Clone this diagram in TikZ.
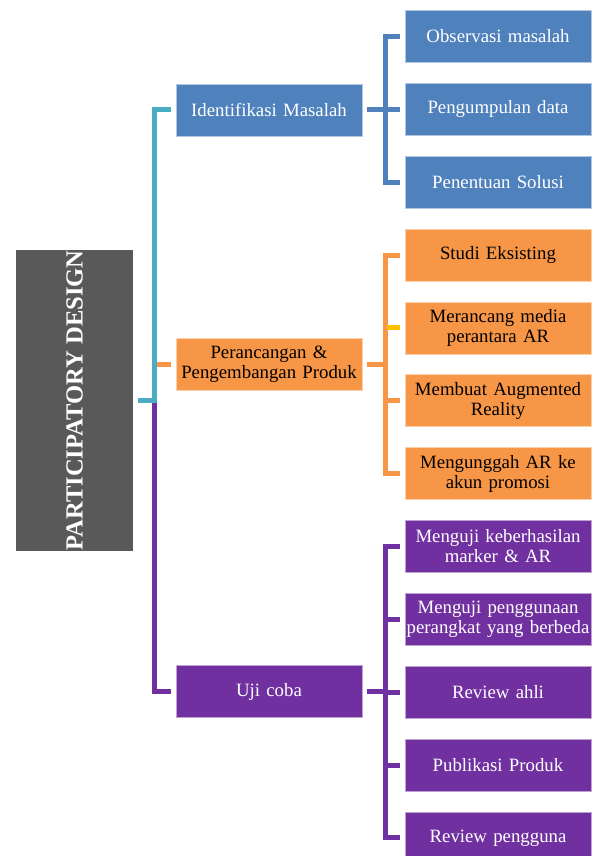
\documentclass[tikz,border=0pt]{standalone}
\usepackage{fontspec}
\setmainfont{Liberation Serif}
\usepackage{xcolor}
\usepackage{tikz}

\definecolor{pdblue}{HTML}{4F81BD}
\definecolor{pdorange}{HTML}{F79646}
\definecolor{pdpurple}{HTML}{7030A0}
\definecolor{pdteal}{HTML}{4BACC6}
\definecolor{pdgray}{HTML}{595959}
\definecolor{pdyellow}{HTML}{FFC000}

\begin{document}
\begin{tikzpicture}[
    x=1pt, y=-1pt,
    rootnode/.style={fill=pdgray, text=white, rotate=90, minimum width=301pt, minimum height=117pt, inner sep=0pt, font=\fontsize{24.6}{27}\selectfont\bfseries},
    boxnode/.style={draw=white!55!#1, line width=0.6pt, fill=#1, text=white, minimum width=186pt, minimum height=52pt, inner sep=0pt, text width=184pt, align=center, font=\fontsize{18.8}{20}\selectfont},
    link/.style={draw=#1, line width=5pt}
]
    \useasboundingbox (0,0) rectangle (597,856);

    \node[rootnode] (root) at (74.5, 400.5) {PARTICIPATORY DESIGN};

    \node[boxnode=pdblue] (idm) at (269, 110) {Identifikasi Masalah};
    \node[boxnode=pdorange, text=black] (pp) at (269, 364.5) {Perancangan \&\\ Pengembangan Produk};
    \node[boxnode=pdpurple] (uji) at (269, 691.5) {Uji coba};

    \foreach \n/\i/\val in {obs/0/Observasi masalah, peng/1/Pengumpulan data, sol/2/Penentuan Solusi}
        \node[boxnode=pdblue] (\n) at (498, 36.5+72.85*\i) {\val};
    \foreach \n/\i/\val in {studi/3/Studi Eksisting, mer/4/Merancang media\\ perantara AR, buat/5/Membuat Augmented\\ Reality, unggah/6/Mengunggah AR ke\\ akun promosi}
        \node[boxnode=pdorange, text=black] (\n) at (498, 36.5+72.85*\i) {\val};
    \foreach \n/\i/\val in {uji1/7/Menguji keberhasilan\\ marker \& AR, uji2/8/Menguji penggunaan\\ perangkat yang berbeda, ahli/9/Review ahli, publ/10/Publikasi Produk, pengg/11/Review pengguna}
        \node[boxnode=pdpurple] (\n) at (498, 36.5+72.85*\i) {\val};

    % trunk to the three stages
    \coordinate (trunk) at (154.5, 400.5);
    \draw[link=pdorange, shorten <=5pt] (pp.west) -- (pp.west -| trunk);
    \draw[link=pdpurple, shorten >=5pt] (trunk) |- (uji.west);
    \draw[link=pdteal, shorten <=5pt, shorten >=5pt] (root.south) -- (trunk) |- (idm.west);

    % stage to steps
    \foreach \c in {obs, peng, sol}
        \draw[link=pdblue, shorten <=5pt, shorten >=5pt] (idm.east) -- ++(23,0) |- (\c.west);
    \foreach \c in {studi, mer, buat, unggah}
        \draw[link=pdorange, shorten <=5pt, shorten >=5pt] (pp.east) -- ++(23,0) |- (\c.west);
    \draw[link=pdyellow, shorten <=5pt] (mer.west) -- ++(-18,0);
    \foreach \c in {uji1, uji2, ahli, publ, pengg}
        \draw[link=pdpurple, shorten <=5pt, shorten >=5pt] (uji.east) -- ++(23,0) |- (\c.west);
\end{tikzpicture}
\end{document}
